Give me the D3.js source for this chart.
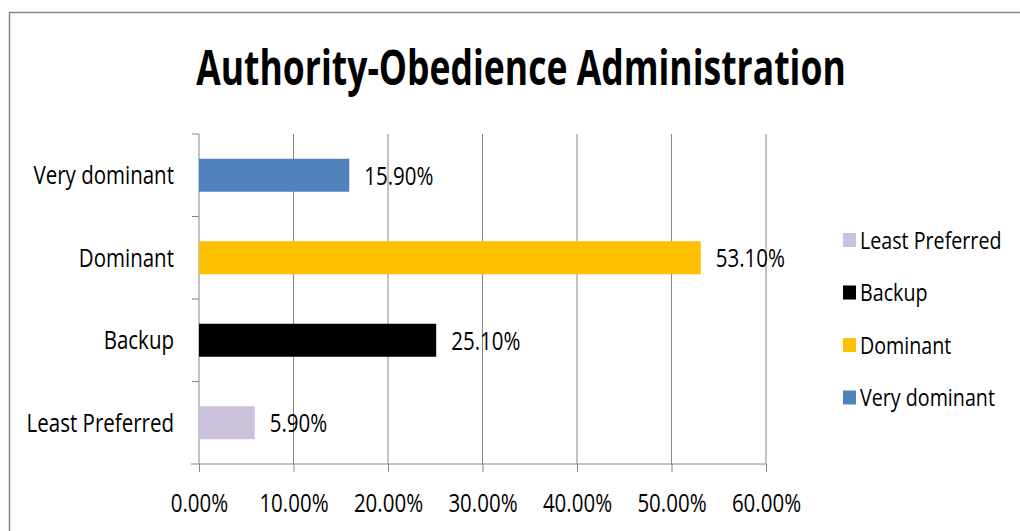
<!DOCTYPE html>
<html>
<head>
<meta charset="utf-8">
<script src="https://cdn.jsdelivr.net/npm/d3@7"></script>
<style>
  body { margin: 0; background: #fff; }
  text { font-family: "Open Sans", sans-serif; fill: #000; }
</style>
</head>
<body>
<div id="chart"></div>
<script>
const categories = ["Very dominant", "Dominant", "Backup", "Least Preferred"];
const values = [15.9, 53.1, 25.1, 5.9];
const colors = ["#4F81BD", "#FFC000", "#000000", "#CCC1DA"];
const tickValues = [0, 10, 20, 30, 40, 50, 60];
const legendOrder = ["Least Preferred", "Backup", "Dominant", "Very dominant"];

const W = 1020, H = 531;
const plot = { left: 199, right: 766, top: 134, bottom: 464 };
const AXIS_COLOR = "#868686";
const SQUEEZE = 0.82;   // the original font is much narrower than Open Sans

const svg = d3.select("#chart").append("svg")
  .attr("width", W)
  .attr("height", H);

// chart frame (runs off the right and bottom edge)
svg.append("rect")
  .attr("x", 9.5).attr("y", 12.5)
  .attr("width", 1100).attr("height", 600)
  .attr("fill", "none")
  .attr("stroke", AXIS_COLOR)
  .attr("stroke-width", 1.5);

svg.append("text")
  .attr("transform", "translate(521,85) scale(0.74,1)")
  .attr("text-anchor", "middle")
  .style("font-size", "48px")
  .style("font-weight", "bold")
  .text("Authority-Obedience Administration");

const x = d3.scaleLinear().domain([0, 60]).range([plot.left, plot.right]);
const y = d3.scaleBand().domain(categories).range([plot.top, plot.bottom]).paddingInner(0.6).paddingOuter(0.3);

// gridlines
svg.append("g").selectAll("line")
  .data(tickValues.slice(1))
  .enter().append("line")
  .attr("x1", d => x(d)).attr("x2", d => x(d))
  .attr("y1", plot.top).attr("y2", plot.bottom)
  .attr("stroke", AXIS_COLOR)
  .attr("stroke-width", 1);

// x axis
const xAxis = svg.append("g")
  .attr("transform", "translate(0," + plot.bottom + ")")
  .call(d3.axisBottom(x).tickValues(tickValues).tickSize(8)
    .tickFormat(d => d.toFixed(2) + "%"));
xAxis.select(".domain").attr("stroke", AXIS_COLOR).attr("d", "M" + (plot.left - 8) + ",0H" + plot.right);
xAxis.selectAll(".tick line").attr("stroke", AXIS_COLOR);
xAxis.selectAll("text")
  .attr("y", null).attr("dy", null)
  .attr("transform", "translate(0,48) scale(" + SQUEEZE + ",1)")
  .style("font-size", "25px")
  .style("font-family", null);

// y axis: ticks sit at band boundaries, labels at band centres
const yAxis = svg.append("g").attr("transform", "translate(" + plot.left + ",0)");
yAxis.append("line")
  .attr("x1", 0).attr("x2", 0)
  .attr("y1", plot.top).attr("y2", plot.bottom)
  .attr("stroke", AXIS_COLOR);
const step = (plot.bottom - plot.top) / categories.length;
yAxis.selectAll(".ytick")
  .data(d3.range(categories.length))
  .enter().append("line")
  .attr("x1", -7).attr("x2", 0)
  .attr("y1", i => plot.top + i * step).attr("y2", i => plot.top + i * step)
  .attr("stroke", AXIS_COLOR);
yAxis.selectAll(".ylabel")
  .data(categories)
  .enter().append("text")
  .attr("transform", d => "translate(-25," + (y(d) + y.bandwidth() / 2) + ") scale(" + SQUEEZE + ",1)")
  .attr("dy", "0.36em")
  .attr("text-anchor", "end")
  .style("font-size", "25px")
  .text(d => d);

// bars
svg.append("g").selectAll("rect")
  .data(categories)
  .enter().append("rect")
  .attr("x", x(0))
  .attr("y", d => y(d))
  .attr("width", (d, i) => x(values[i]) - x(0))
  .attr("height", y.bandwidth())
  .attr("fill", (d, i) => colors[i]);

// value labels
svg.append("g").selectAll("text")
  .data(categories)
  .enter().append("text")
  .attr("transform", (d, i) => "translate(" + (x(values[i]) + 15) + "," + (y(d) + y.bandwidth() / 2) + ") scale(" + SQUEEZE + ",1)")
  .attr("dy", "0.38em")
  .style("font-size", "25px")
  .text((d, i) => values[i].toFixed(2) + "%");

// legend
const legend = svg.append("g").selectAll("g")
  .data(legendOrder)
  .enter().append("g")
  .attr("transform", (d, i) => "translate(843," + (240 + i * 52.5) + ")");
legend.append("rect")
  .attr("x", 0).attr("y", -7)
  .attr("width", 13).attr("height", 14)
  .attr("fill", d => colors[categories.indexOf(d)]);
legend.append("text")
  .attr("transform", "translate(17,0) scale(" + SQUEEZE + ",1)")
  .attr("dy", "0.36em")
  .style("font-size", "24px")
  .text(d => d);
</script>
</body>
</html>
